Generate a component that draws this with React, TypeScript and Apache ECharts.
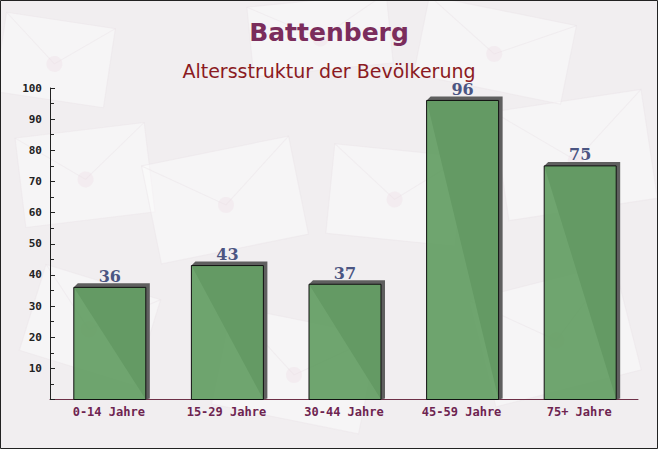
import React, { useEffect, useRef } from "react";
import * as echarts from "echarts";

const categories = ["0-14 Jahre", "15-29 Jahre", "30-44 Jahre", "45-59 Jahre", "75+ Jahre"];
const values = [36, 43, 37, 96, 75];
const titleText = "Battenberg";
const subtitleText = "Altersstruktur der Bevölkerung";

const envelopes = [
  { x: 20, y: 130, w: 130, h: 90, r: 0.12 },
  { x: 150, y: 150, w: 150, h: 100, r: 0.2 },
  { x: 330, y: 150, w: 130, h: 90, r: -0.1 },
  { x: 500, y: 100, w: 150, h: 110, r: 0.15 },
  { x: 480, y: 280, w: 150, h: 110, r: 0.25 },
  { x: 220, y: 320, w: 150, h: 100, r: -0.2 },
  { x: 0, y: 20, w: 110, h: 80, r: -0.15 },
  { x: 250, y: 0, w: 140, h: 70, r: 0.1 },
  { x: 420, y: 10, w: 150, h: 80, r: -0.2 },
  { x: 30, y: 280, w: 120, h: 90, r: -0.3 },
];

export default function App() {
  const ref = useRef<HTMLDivElement>(null);
  useEffect(() => {
    document.body.style.margin = "0";
    const chart = echarts.init(ref.current!, null, { renderer: "svg" });
    const bg: any[] = [
      { type: "rect", shape: { x: 0, y: 0, width: 658, height: 449 }, style: { fill: "#f1eef0" }, z: -10 },
      ...envelopes.map((e) => ({
        type: "group",
        x: e.x + e.w / 2,
        y: e.y + e.h / 2,
        rotation: e.r,
        z: -9,
        children: [
          { type: "rect", shape: { x: -e.w / 2, y: -e.h / 2, width: e.w, height: e.h }, style: { fill: "rgba(255,255,255,0.4)", stroke: "rgba(235,230,233,0.5)" } },
          { type: "polyline", shape: { points: [[-e.w / 2, -e.h / 2], [0, e.h * 0.05], [e.w / 2, -e.h / 2]] }, style: { stroke: "rgba(230,222,226,0.35)", fill: null } },
          { type: "circle", shape: { cx: 0, cy: e.h * 0.05, r: 8 }, style: { fill: "rgba(238,222,228,0.35)" } },
        ],
      })),
      { type: "rect", shape: { x: 0.5, y: 0.5, width: 657, height: 448 }, style: { fill: null, stroke: "#222", lineWidth: 1 }, z: 100 },
    ];
    chart.setOption({
      animation: false,
      backgroundColor: "transparent",
      title: [
        { text: titleText, left: "center", top: 15, textStyle: { fontFamily: "DejaVu Sans", fontWeight: "bold", fontSize: 25, color: "#7b2d5c" } },
        { text: subtitleText, left: "center", top: 56, textStyle: { fontFamily: "DejaVu Sans", fontWeight: "normal", fontSize: 19, color: "#8b1a22" } },
      ],
      graphic: bg,
      grid: { left: 50, right: 20, top: 88, bottom: 49.5, containLabel: false },
      xAxis: {
        type: "category",
        data: categories,
        axisLine: { lineStyle: { color: "#6e3048", width: 1 } },
        axisTick: { inside: true, length: 5, lineStyle: { color: "#6e3048" } },
        axisLabel: { fontFamily: "DejaVu Sans Mono", fontWeight: "bold", fontSize: 12, color: "#6e2450", margin: 6 },
      },
      yAxis: {
        type: "value",
        min: 0,
        max: 100,
        interval: 10,
        axisLine: { show: true, lineStyle: { color: "#222", width: 1 } },
        axisTick: { show: true, inside: true, length: 5, lineStyle: { color: "#222" } },
        minorTick: { show: true, splitNumber: 2, length: 4, lineStyle: { color: "#222" } },
        splitLine: { show: false },
        axisLabel: {
          fontFamily: "DejaVu Sans Mono",
          fontWeight: "bold",
          fontSize: 11,
          color: "#222",
          margin: 8,
          formatter: (v: number) => (v === 0 ? "" : String(v)),
        },
      },
      series: [
        {
          type: "custom",
          data: values.map((v, i) => [i, v]),
          encode: { x: 0, y: 1 },
          renderItem: (params: any, api: any) => {
            const idx = api.value(0);
            const val = api.value(1);
            const top = api.coord([idx, val]);
            const base = api.coord([idx, 0]);
            const bw = 72;
            const cx = top[0] + 1;
            const x0 = cx - bw / 2;
            const x1 = cx + bw / 2;
            const ty = top[1];
            const by = base[1];
            const d = 4;
            return {
              type: "group",
              children: [
                {
                  type: "polygon",
                  shape: { points: [[x0, ty], [x0 + d, ty - d], [x1 + d, ty - d], [x1 + d, by - 1], [x1, by]] },
                  style: { fill: "#5f5f5f" },
                },
                {
                  type: "rect",
                  shape: { x: x0, y: ty, width: bw, height: by - ty },
                  style: { fill: "rgba(100,158,100,0.93)", stroke: "#111", lineWidth: 1 },
                },
                {
                  type: "text",
                  style: {
                    text: String(val),
                    x: cx,
                    y: ty - 3,
                    align: "center",
                    verticalAlign: "bottom",
                    fontFamily: "DejaVu Serif",
                    fontWeight: "bold",
                    fontSize: 16,
                    fill: "#4b5582",
                  },
                },
              ],
            };
          },
        },
      ],
    });
    return () => chart.dispose();
  }, []);
  return <div ref={ref} style={{ width: 658, height: 449 }} />;
}
